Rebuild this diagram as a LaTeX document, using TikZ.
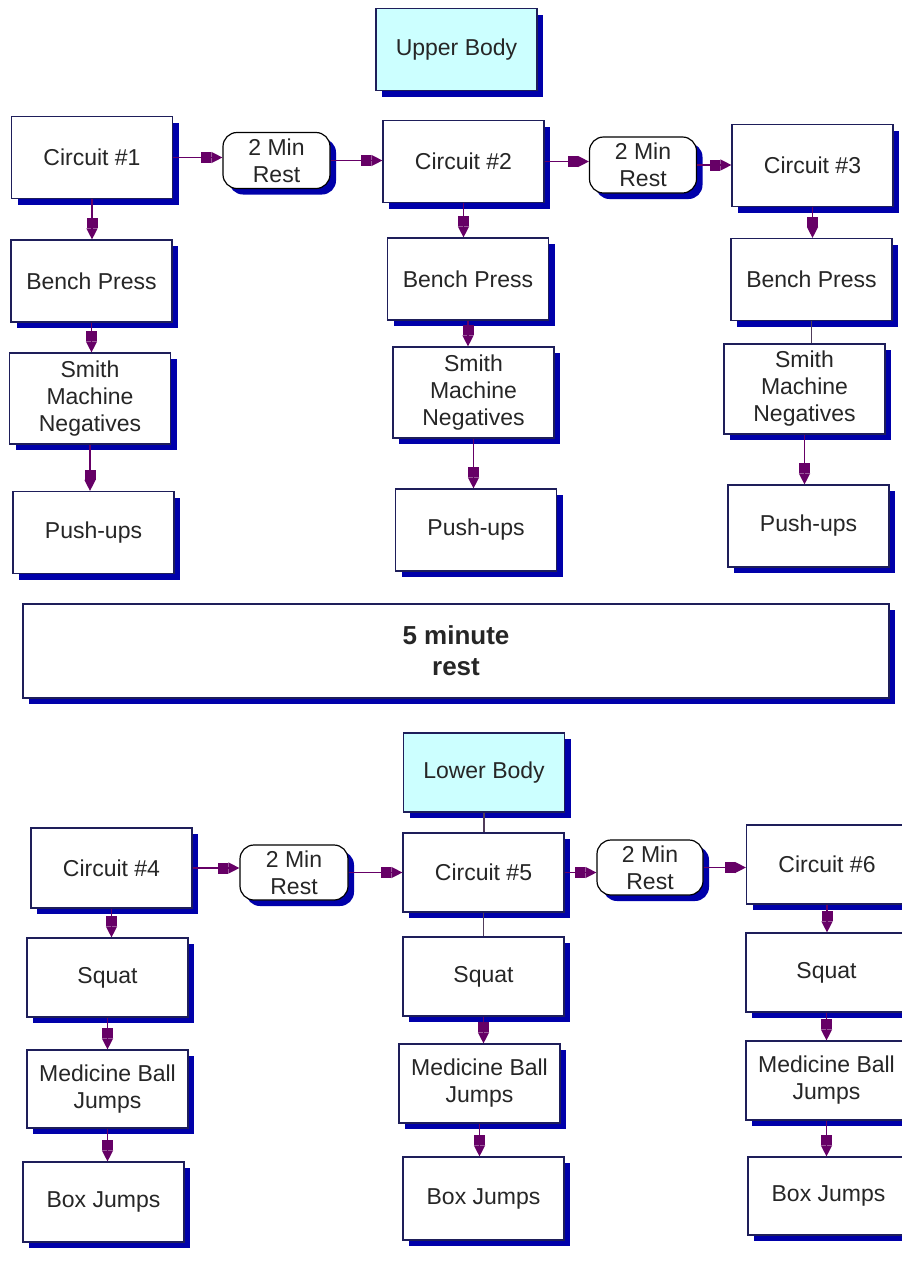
\documentclass[tikz,border=0pt]{standalone}
\usepackage{fontspec}
\setmainfont{Liberation Sans}
\usetikzlibrary{arrows.meta}
\usetikzlibrary{shadows}

\definecolor{boxline}{RGB}{30,30,90}
\definecolor{shade}{RGB}{0,0,170}
\definecolor{headfill}{RGB}{204,255,255}
\definecolor{arrowpurple}{RGB}{102,0,102}
\definecolor{plainline}{RGB}{80,60,90}

\begin{document}
\begin{tikzpicture}[x=1pt,y=-1pt]
  \tikzset{block/.style = {shape=rectangle,draw=boxline,line width=1.2pt,fill=white,
      minimum width=161pt,minimum height=82pt,inner sep=2pt,align=center,
      font=\fontsize{23}{27}\selectfont,text=black!85,
      drop shadow={shadow xshift=6pt,shadow yshift=-6pt,fill=shade,opacity=1}}}
  \tikzset{head/.style = {block,fill=headfill}}
  \tikzset{pause/.style = {block,draw=black,rounded corners=14pt,minimum width=107pt,minimum height=56pt}}
  \tikzset{flow/.style = {draw=arrowpurple,line width=1.3pt,
      -{Rectangle[length=10pt,width=11pt,sep=0pt]Triangle[length=11pt,width=11pt]}}}
  \tikzset{link/.style = {draw=plainline,line width=1.2pt}}

  \useasboundingbox (0,0) rectangle (902,1262);

  % upper body
	\node[head] (UB) at (456.5,49.5) {Upper Body};

	\node[block] (C1) at (92,157.5) {Circuit \#1};
	\node[pause] (R1) at (276.5,160.5) {2 Min\\Rest};
	\node[block] (C2) at (463.5,161.5) {Circuit \#2};
	\node[pause] (R2) at (643,165) {2 Min\\Rest};
	\node[block] (C3) at (812.5,165.5) {Circuit \#3};

	\node[block] (BP1) at (91.5,281) {Bench Press};
	\node[block] (BP2) at (468,279) {Bench Press};
	\node[block] (BP3) at (811.5,279.5) {Bench Press};

	\node[block,minimum height=91pt] (SM1) at (90,398.5) {Smith\\Machine\\Negatives};
	\node[block,minimum height=91pt] (SM2) at (473.5,392.5) {Smith\\Machine\\Negatives};
	\node[block,minimum height=90pt] (SM3) at (804.5,389) {Smith\\Machine\\Negatives};

	\node[block] (PU1) at (93.5,532.5) {Push-ups};
	\node[block] (PU2) at (476,530) {Push-ups};
	\node[block] (PU3) at (808.5,526) {Push-ups};

  % long rest
	\node[block,minimum width=866pt,minimum height=94pt,
	  font=\bfseries\fontsize{26}{31}\selectfont] (LR) at (456,651) {5 minute\\rest};

  % lower body
	\node[head,minimum height=79pt] (LB) at (484,772.5) {Lower Body};

	\node[block,minimum height=80pt] (C4) at (111.5,868) {Circuit \#4};
	\node[pause,minimum width=108pt,minimum height=55pt] (R3) at (294,872.5) {2 Min\\Rest};
	\node[block,minimum height=79pt] (C5) at (483.5,872.5) {Circuit \#5};
	\node[pause,minimum width=106pt,minimum height=55pt] (R4) at (650,867.5) {2 Min\\Rest};
	\node[block,minimum height=79pt] (C6) at (827,864.5) {Circuit \#6};

	\node[block,minimum height=79pt] (SQ4) at (107.5,977.5) {Squat};
	\node[block,minimum height=79pt] (SQ5) at (483.5,976.5) {Squat};
	\node[block,minimum height=79pt] (SQ6) at (826.5,972.5) {Squat};

	\node[block,minimum height=78pt] (MB4) at (107.5,1089) {Medicine Ball\\Jumps};
	\node[block,minimum height=79pt] (MB5) at (479.5,1083.5) {Medicine Ball\\Jumps};
	\node[block,minimum height=79pt] (MB6) at (826.5,1080.5) {Medicine Ball\\Jumps};

	\node[block,minimum height=80pt] (BJ4) at (103.5,1202) {Box Jumps};
	\node[block,minimum height=83pt] (BJ5) at (483.5,1198.5) {Box Jumps};
	\node[block,minimum height=78pt] (BJ6) at (828.5,1196) {Box Jumps};

	\foreach \from/\to in {C1/R1, R1/C2, C2/R2, R2/C3, C4/R3, R3/C5, C5/R4, R4/C6}
    \draw[flow] (\from) -- (\from -| \to.west);

	\foreach \from/\to in {C1/BP1, BP1/SM1, SM1/PU1, C2/BP2, BP2/SM2, SM2/PU2, C3/BP3, SM3/PU3,
	  C4/SQ4, SQ4/MB4, MB4/BJ4, SQ5/MB5, MB5/BJ5, C6/SQ6, SQ6/MB6, MB6/BJ6}
    \draw[flow] (\from) -- (\from |- \to.north);

	\foreach \from/\to in {BP3/SM3, LB/C5, C5/SQ5}
    \draw[link] (\from) -- (\from |- \to.north);
\end{tikzpicture}
\end{document}
